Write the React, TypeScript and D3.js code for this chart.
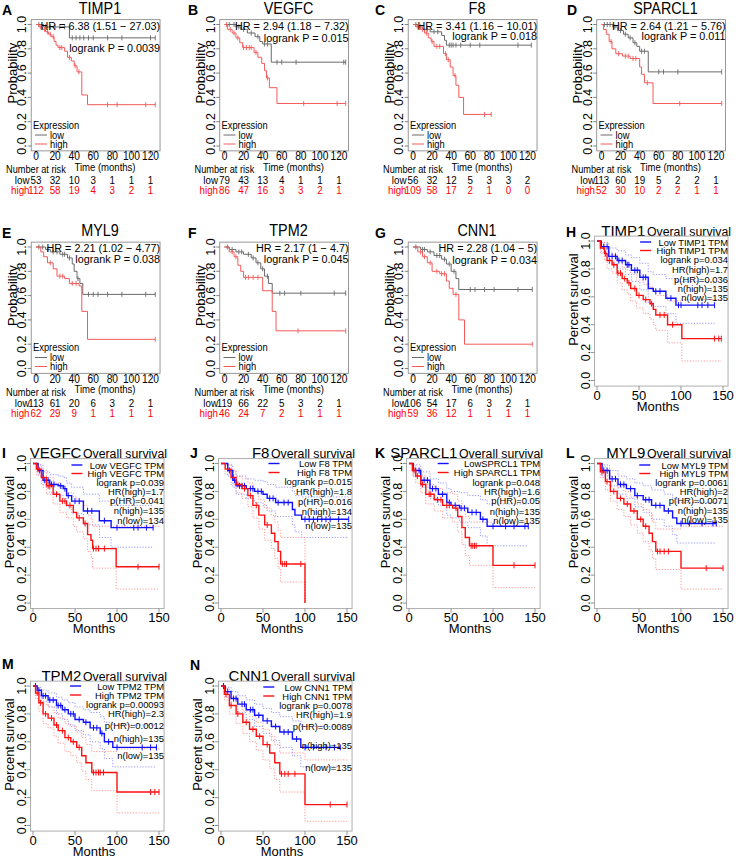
import React from 'react';
import * as d3 from 'd3';

type Step = [number, number];
type CiStep = [number, number, number, number];

// ---------------- KM plotter panels (A-G) ----------------
const kmGenes = ['TIMP1', 'VEGFC', 'F8', 'SPARCL1', 'MYL9', 'TPM2', 'CNN1'];
const kmLetters = ['A', 'B', 'C', 'D', 'E', 'F', 'G'];
const kmHR = [
  'HR = 6.38 (1.51 − 27.03)', 'HR = 2.94 (1.18 − 7.32)', 'HR = 3.41 (1.16 − 10.01)',
  'HR = 2.64 (1.21 − 5.76)', 'HR = 2.21 (1.02 − 4.77)', 'HR = 2.17 (1 − 4.7)', 'HR = 2.28 (1.04 − 5)',
];
const kmP = [
  'logrank P = 0.0039', 'logrank P = 0.015', 'logrank P = 0.018', 'logrank P = 0.011',
  'logrank P = 0.038', 'logrank P = 0.045', 'logrank P = 0.034',
];
const kmLow: Step[][] = [
  [[0, 1], [8, 0.98], [35, 0.89]],
  [[0, 1], [12, 0.98], [17, 0.96], [24, 0.93], [32, 0.9], [37, 0.86], [40, 0.84], [49, 0.69]],
  [[0, 1], [5, 0.98], [10, 0.96], [18, 0.94], [30, 0.91], [33, 0.87], [35, 0.83]],
  [[0, 1], [12, 0.98], [17, 0.95], [23, 0.92], [28, 0.89], [33, 0.85], [37, 0.82], [40, 0.78], [49, 0.61]],
  [[0, 1], [10, 0.98], [15, 0.96], [25, 0.94], [33, 0.91], [38, 0.86], [40, 0.8], [43, 0.74], [46, 0.7], [49, 0.61]],
  [[0, 1], [5, 0.98], [12, 0.96], [20, 0.94], [28, 0.91], [33, 0.87], [38, 0.82], [42, 0.76], [46, 0.7], [50, 0.62]],
  [[0, 1], [8, 0.98], [15, 0.96], [22, 0.93], [30, 0.9], [35, 0.86], [40, 0.8], [45, 0.74], [48, 0.65]],
];
const kmLowEnd = [125, 127, 124, 126, 125, 127, 125];
const kmLowCensor = [
  [3, 10, 15, 20, 25, 30, 38, 42, 46, 50, 55, 60, 75, 90, 120, 125],
  [5, 10, 15, 20, 28, 35, 42, 45, 55, 60, 75, 125, 127],
  [3, 8, 15, 22, 26, 38, 40, 42, 45, 50, 60, 70, 110, 124],
  [3, 6, 9, 14, 20, 25, 30, 35, 42, 45, 60, 65, 80, 126],
  [3, 7, 12, 18, 22, 28, 30, 35, 44, 55, 60, 65, 75, 90, 115, 125],
  [3, 8, 15, 18, 25, 30, 35, 40, 45, 58, 63, 80, 115, 127],
  [3, 10, 12, 18, 25, 28, 33, 38, 43, 60, 65, 75, 85, 110, 125],
];
const kmHigh: Step[][] = [
  [[0, 1], [3, 0.98], [7, 0.96], [10, 0.94], [13, 0.92], [16, 0.9], [19, 0.86], [21, 0.83], [23, 0.81], [30, 0.78], [33, 0.73], [37, 0.7], [40, 0.66], [43, 0.61], [48, 0.42], [54, 0.34]],
  [[0, 1], [3, 0.96], [8, 0.93], [12, 0.89], [16, 0.85], [19, 0.81], [31, 0.77], [35, 0.73], [39, 0.68], [42, 0.62], [44, 0.56], [47, 0.48], [55, 0.35]],
  [[0, 1], [3, 0.98], [8, 0.96], [12, 0.93], [16, 0.89], [19, 0.86], [22, 0.82], [32, 0.76], [35, 0.71], [39, 0.65], [42, 0.58], [45, 0.5], [48, 0.4], [53, 0.26]],
  [[0, 1], [2, 0.96], [5, 0.92], [8, 0.86], [11, 0.8], [15, 0.76], [22, 0.74], [30, 0.72], [40, 0.65], [42, 0.59], [45, 0.52], [54, 0.35]],
  [[0, 1], [5, 0.96], [8, 0.92], [12, 0.87], [18, 0.82], [22, 0.76], [30, 0.74], [35, 0.7], [45, 0.68], [48, 0.47], [54, 0.24]],
  [[0, 1], [5, 0.96], [10, 0.92], [14, 0.85], [17, 0.8], [20, 0.75], [40, 0.64], [50, 0.47], [54, 0.31]],
  [[0, 1], [5, 0.96], [10, 0.92], [15, 0.87], [20, 0.8], [28, 0.78], [35, 0.72], [38, 0.66], [42, 0.61], [48, 0.4], [54, 0.2]],
];
const kmHighEnd = [125, 127, 82, 126, 125, 127, 125];
const kmHighCensor = [
  [5, 9, 12, 15, 18, 25, 27, 35, 41, 45, 75, 85, 115, 125],
  [2, 6, 10, 14, 20, 23, 26, 28, 33, 45, 83, 118, 127],
  [5, 10, 14, 20, 25, 28, 34, 37, 44, 75, 82],
  [10, 18, 25, 28, 33, 36, 48, 82, 126],
  [15, 25, 28, 38, 42, 125],
  [8, 12, 22, 25, 30, 35, 77, 127],
  [8, 12, 18, 25, 30, 33, 45, 125],
];
const kmRiskLow = [
  [53, 32, 10, 3, 1, 1, 1], [79, 43, 13, 4, 1, 1, 1], [56, 32, 12, 5, 3, 3, 2], [113, 60, 19, 5, 2, 2, 1],
  [113, 61, 20, 6, 3, 2, 1], [119, 66, 22, 5, 3, 2, 1], [106, 54, 17, 6, 3, 2, 1],
];
const kmRiskHigh = [
  [112, 58, 19, 4, 3, 2, 1], [86, 47, 16, 3, 3, 2, 1], [109, 58, 17, 2, 1, 0, 0], [52, 30, 10, 2, 2, 1, 1],
  [62, 29, 9, 1, 1, 1, 1], [46, 24, 7, 2, 1, 1, 1], [59, 36, 12, 1, 1, 1, 1],
];
const kmTimeTicks = [0, 20, 40, 60, 80, 100, 120];
const probTicks = [0, 0.2, 0.4, 0.6, 0.8, 1.0];

// ---------------- GEPIA panels (H-N) ----------------
const gpGenes = ['TIMP1', 'VEGFC', 'F8', 'SPARCL1', 'MYL9', 'TPM2', 'CNN1'];
const gpLetters = ['H', 'I', 'J', 'K', 'L', 'M', 'N'];
const gpLowLabel = ['Low TIMP1 TPM', 'Low VEGFC TPM', 'Low F8 TPM', 'LowSPRCL1 TPM', 'Low MYL9 TPM', 'Low TPM2 TPM', 'Low CNN1 TPM'];
const gpHighLabel = ['High TIMP1 TPM', 'High VEGFC TPM', 'High F8 TPM', 'High SPARCL1 TPM', 'High MYL9 TPM', 'High TPM2 TPM', 'High CNN1 TPM'];
const gpLogrank = ['logrank p=0.034', 'logrank p=0.039', 'logrank p=0.015', 'logrank p=0.048', 'logrank p=0.0061', 'logrank p=0.00093', 'logrank p=0.0078'];
const gpHR = ['HR(high)=1.7', 'HR(high)=1.7', 'HR(high)=1.8', 'HR(high)=1.6', 'HR(high)=2', 'HR(high)=2.3', 'HR(high)=1.9'];
const gpPHR = ['p(HR)=0.036', 'p(HR)=0.041', 'p(HR)=0.016', 'p(HR)=0.05', 'p(HR)=0.0071', 'p(HR)=0.0012', 'p(HR)=0.0089'];
const gpNHigh = ['n(high)=135', 'n(high)=135', 'n(high)=134', 'n(high)=135', 'n(high)=135', 'n(high)=135', 'n(high)=135'];
const gpNLow = ['n(low)=135', 'n(low)=134', 'n(low)=135', 'n(low)=135', 'n(low)=135', 'n(low)=135', 'n(low)=135'];

// [time, survival, lower CI, upper CI]
const gpLow: CiStep[][] = [
  [[0, 1, 1, 1], [5, 0.96, 0.92, 0.99], [14, 0.89, 0.84, 0.95], [24, 0.86, 0.8, 0.93], [34, 0.83, 0.76, 0.9], [41, 0.79, 0.71, 0.88], [51, 0.74, 0.65, 0.84], [61, 0.66, 0.56, 0.78], [67, 0.64, 0.53, 0.76], [82, 0.59, 0.48, 0.73], [94, 0.54, 0.41, 0.71]],
  [[0, 1, 1, 1], [6, 0.95, 0.91, 0.99], [12, 0.88, 0.83, 0.94], [20, 0.85, 0.79, 0.92], [30, 0.84, 0.77, 0.91], [36, 0.82, 0.75, 0.9], [40, 0.77, 0.69, 0.86], [46, 0.73, 0.64, 0.83], [60, 0.66, 0.56, 0.78], [79, 0.59, 0.47, 0.73], [93, 0.54, 0.4, 0.7]],
  [[0, 1, 1, 1], [8, 0.95, 0.91, 0.99], [14, 0.88, 0.83, 0.94], [18, 0.84, 0.78, 0.91], [30, 0.82, 0.75, 0.89], [40, 0.8, 0.72, 0.88], [50, 0.78, 0.7, 0.87], [55, 0.75, 0.66, 0.85], [65, 0.72, 0.62, 0.83], [85, 0.67, 0.56, 0.8], [88, 0.63, 0.51, 0.77], [96, 0.6, 0.47, 0.76]],
  [[0, 1, 1, 1], [5, 0.95, 0.91, 0.99], [14, 0.88, 0.83, 0.94], [25, 0.82, 0.75, 0.89], [35, 0.78, 0.7, 0.86], [45, 0.72, 0.63, 0.82], [50, 0.7, 0.61, 0.8], [60, 0.68, 0.58, 0.79], [70, 0.65, 0.54, 0.77], [85, 0.6, 0.48, 0.74], [93, 0.55, 0.41, 0.71]],
  [[0, 1, 1, 1], [6, 0.95, 0.91, 0.99], [15, 0.89, 0.84, 0.95], [25, 0.85, 0.78, 0.91], [35, 0.82, 0.75, 0.89], [45, 0.77, 0.69, 0.86], [55, 0.74, 0.65, 0.84], [65, 0.7, 0.6, 0.81], [80, 0.66, 0.55, 0.78], [90, 0.61, 0.49, 0.75], [95, 0.57, 0.43, 0.72]],
  [[0, 1, 1, 1], [5, 0.97, 0.94, 0.99], [10, 0.93, 0.89, 0.97], [18, 0.9, 0.85, 0.95], [28, 0.86, 0.8, 0.92], [35, 0.83, 0.76, 0.9], [42, 0.8, 0.72, 0.88], [50, 0.76, 0.68, 0.85], [60, 0.74, 0.65, 0.83], [68, 0.7, 0.6, 0.81], [80, 0.66, 0.55, 0.78], [85, 0.6, 0.48, 0.74], [95, 0.56, 0.42, 0.72]],
  [[0, 1, 1, 1], [5, 0.96, 0.92, 0.99], [12, 0.91, 0.86, 0.96], [20, 0.87, 0.81, 0.93], [30, 0.83, 0.76, 0.9], [40, 0.79, 0.71, 0.87], [50, 0.75, 0.66, 0.84], [60, 0.71, 0.61, 0.81], [70, 0.67, 0.56, 0.78], [85, 0.62, 0.5, 0.75], [95, 0.56, 0.42, 0.71]],
];
const gpLowEnd = [140, 143, 152, 142, 142, 147, 142];
const gpLowCensor = [
  [8, 12, 18, 22, 26, 30, 36, 38, 45, 48, 55, 58, 70, 75, 88, 97, 100, 120, 125, 132, 140],
  [8, 14, 16, 18, 22, 25, 33, 38, 42, 50, 55, 65, 70, 85, 100, 120, 125, 135, 143],
  [10, 16, 22, 25, 28, 35, 38, 44, 48, 58, 62, 68, 75, 80, 100, 105, 110, 115, 120, 125, 130, 140, 152],
  [8, 12, 18, 22, 28, 32, 40, 48, 55, 62, 66, 75, 80, 88, 100, 115, 125, 138, 142],
  [8, 12, 18, 22, 28, 32, 40, 48, 58, 62, 70, 75, 85, 100, 110, 125, 138, 142],
  [3, 7, 12, 15, 20, 24, 30, 33, 38, 45, 48, 55, 63, 72, 76, 82, 90, 100, 130, 140, 147],
  [3, 8, 15, 18, 25, 28, 35, 38, 45, 55, 65, 75, 80, 90, 100, 110, 125, 135, 142],
];
const gpHigh: CiStep[][] = [
  [[0, 1, 1, 1], [4, 0.95, 0.91, 0.99], [9, 0.91, 0.86, 0.96], [12, 0.86, 0.8, 0.92], [18, 0.83, 0.77, 0.9], [24, 0.77, 0.7, 0.85], [30, 0.73, 0.65, 0.81], [36, 0.7, 0.62, 0.79], [40, 0.66, 0.57, 0.76], [47, 0.61, 0.52, 0.72], [55, 0.58, 0.48, 0.69], [63, 0.55, 0.44, 0.67], [67, 0.51, 0.4, 0.64], [70, 0.47, 0.36, 0.61], [84, 0.4, 0.27, 0.57], [101, 0.3, 0.14, 0.58]],
  [[0, 1, 1, 1], [4, 0.96, 0.92, 0.99], [10, 0.9, 0.85, 0.95], [16, 0.84, 0.78, 0.9], [24, 0.78, 0.71, 0.86], [32, 0.73, 0.65, 0.82], [40, 0.7, 0.61, 0.79], [48, 0.65, 0.55, 0.76], [52, 0.61, 0.51, 0.73], [60, 0.57, 0.46, 0.7], [65, 0.49, 0.37, 0.63], [69, 0.45, 0.33, 0.6], [71, 0.39, 0.25, 0.55], [99, 0.26, 0.1, 0.55]],
  [[0, 1, 1, 1], [5, 0.96, 0.92, 0.99], [12, 0.9, 0.85, 0.95], [18, 0.85, 0.79, 0.91], [25, 0.82, 0.75, 0.89], [32, 0.77, 0.69, 0.86], [38, 0.7, 0.61, 0.8], [45, 0.63, 0.53, 0.74], [52, 0.56, 0.45, 0.68], [60, 0.5, 0.39, 0.63], [64, 0.44, 0.32, 0.58], [68, 0.37, 0.25, 0.52], [71, 0.28, 0.15, 0.47], [100, 0, 0, 0]],
  [[0, 1, 1, 1], [4, 0.95, 0.91, 0.99], [8, 0.91, 0.86, 0.96], [14, 0.85, 0.79, 0.91], [20, 0.78, 0.71, 0.85], [30, 0.74, 0.66, 0.82], [40, 0.7, 0.61, 0.79], [52, 0.68, 0.58, 0.78], [58, 0.62, 0.51, 0.73], [63, 0.54, 0.42, 0.67], [67, 0.47, 0.34, 0.62], [72, 0.41, 0.27, 0.58], [100, 0.27, 0.11, 0.58]],
  [[0, 1, 1, 1], [4, 0.94, 0.9, 0.98], [10, 0.87, 0.81, 0.93], [16, 0.8, 0.73, 0.87], [24, 0.75, 0.67, 0.83], [32, 0.71, 0.62, 0.8], [40, 0.66, 0.56, 0.76], [48, 0.6, 0.5, 0.71], [55, 0.55, 0.44, 0.67], [62, 0.5, 0.38, 0.63], [66, 0.44, 0.32, 0.58], [70, 0.37, 0.24, 0.53], [100, 0.25, 0.1, 0.55]],
  [[0, 1, 1, 1], [3, 0.95, 0.91, 0.99], [7, 0.88, 0.82, 0.93], [12, 0.8, 0.73, 0.87], [18, 0.77, 0.7, 0.85], [25, 0.72, 0.64, 0.81], [30, 0.68, 0.59, 0.77], [38, 0.63, 0.53, 0.73], [45, 0.6, 0.5, 0.71], [52, 0.56, 0.45, 0.67], [58, 0.5, 0.39, 0.63], [63, 0.45, 0.33, 0.58], [70, 0.38, 0.25, 0.53], [100, 0.24, 0.09, 0.55]],
  [[0, 1, 1, 1], [4, 0.94, 0.9, 0.98], [10, 0.86, 0.8, 0.92], [18, 0.8, 0.73, 0.87], [26, 0.74, 0.66, 0.82], [34, 0.69, 0.6, 0.78], [42, 0.64, 0.54, 0.74], [50, 0.58, 0.47, 0.69], [58, 0.52, 0.41, 0.64], [64, 0.45, 0.33, 0.58], [70, 0.37, 0.24, 0.52], [100, 0.15, 0.03, 0.47]],
];
const gpHighEnd = [148, 150, 100, 150, 150, 150, 150];
const gpHighCensor = [
  [10, 15, 20, 25, 28, 33, 38, 45, 50, 58, 65, 75, 80, 90, 140, 145, 148],
  [6, 12, 18, 20, 28, 35, 38, 44, 55, 62, 72, 75, 78, 85, 125, 150],
  [15, 20, 28, 35, 42, 55, 73, 76, 78, 95],
  [6, 10, 16, 24, 26, 34, 38, 45, 48, 56, 74, 76, 78, 80, 125, 150],
  [6, 12, 20, 28, 36, 44, 52, 58, 72, 75, 80, 85, 130, 150],
  [5, 9, 15, 22, 28, 35, 42, 48, 55, 72, 75, 78, 80, 84, 140, 145, 150],
  [6, 12, 20, 30, 38, 46, 55, 72, 76, 80, 88, 130, 150],
];
const monthTicks = [0, 50, 100, 150];

// ---------------- rendering ----------------
const FONT = "'Liberation Sans', Arial, Helvetica, sans-serif";
const KM_GRAY = '#6a6a6a';
const KM_RED = '#f45a5a';
const GP_BLUE = '#1010ff';
const GP_RED = '#ff1010';

let measureCtx: CanvasRenderingContext2D | null = null;
function textW(s: string, size: number) {
  if (!measureCtx && typeof document !== 'undefined') measureCtx = document.createElement('canvas').getContext('2d');
  if (!measureCtx) return s.length * size * 0.52;
  measureCtx.font = `${size}px ${FONT}`;
  return measureCtx.measureText(s).width;
}

function stepAt(steps: number[][], t: number) {
  let v = steps[0][1];
  for (const s of steps) { if (s[0] <= t) v = s[1]; else break; }
  return v;
}

type TP = { x: number; y: number; s: number; a?: string; sx?: number; fill?: string; w?: string | number; rot?: boolean; children: React.ReactNode };
const T = ({ x, y, s, a = 'start', sx = 1, fill = '#000', w, rot, children }: TP) => (
  <text
    transform={rot ? `translate(${x},${y}) rotate(-90)` : `translate(${x},${y}) scale(${sx},1)`}
    fontSize={s} textAnchor={a as any} dominantBaseline="central" fill={fill}
    fontWeight={w as any} fontFamily={FONT}
  >{children}</text>
);

function stepPath(pts: [number, number][], x: d3.ScaleLinear<number, number>, y: d3.ScaleLinear<number, number>) {
  return d3.line<[number, number]>().x(d => x(d[0])).y(d => y(d[1])).curve(d3.curveStepAfter)(pts) || '';
}

const kmPY = [48, 38, 36, 36, 36, 36, 37.5];
const kmLetterX = [2, 188, 375, 567];

function KMPanel({ i }: { i: number }) {
  const row = i < 4 ? 0 : 1;
  const col = i < 4 ? i : i - 4;
  const ro = row * 222.5;
  const co = col * 188.5;
  const x = d3.scaleLinear().domain([0, 120]).range([36 + co, 150.5 + co]);
  const y = d3.scaleLinear().domain([0, 1]).range([146 + ro, 24.5 + ro]);
  const bx0 = x(-5), bx1 = x(130), by0 = y(1.04), by1 = y(-0.04);
  const SX = 0.85;
  const curves = [
    { steps: kmLow[i], end: kmLowEnd[i], cens: kmLowCensor[i], col: KM_GRAY },
    { steps: kmHigh[i], end: kmHighEnd[i], cens: kmHighCensor[i], col: KM_RED },
  ];
  return (
    <g>
      <T x={kmLetterX[col]} y={ro + 10} s={14} w="bold">{kmLetters[i]}</T>
      <T x={co + 100} y={ro + 8} s={16} a="middle" sx={0.9}>{kmGenes[i]}</T>
      <rect x={bx0} y={by0} width={bx1 - bx0} height={by1 - by0} fill="none" stroke="#8c8c8c" strokeWidth={0.9} />
      {probTicks.map(t => (
        <g key={'y' + t}>
          <line x1={bx0} x2={bx0 - 3.5} y1={y(t)} y2={y(t)} stroke="#666" strokeWidth={0.8} />
          <T x={bx0 - 9} y={y(t)} s={12.5} a="middle" rot>{t.toFixed(1)}</T>
        </g>
      ))}
      {kmTimeTicks.map(t => (
        <g key={'x' + t}>
          <line x1={x(t)} x2={x(t)} y1={by1} y2={by1 + 3.5} stroke="#666" strokeWidth={0.8} />
          <T x={x(t)} y={ro + 156} s={12} a="middle" sx={SX}>{t}</T>
        </g>
      ))}
      <T x={co + 12} y={y(0.6)} s={13} a="middle" rot>Probability</T>
      {curves.map((c, k) => {
        const pts: [number, number][] = c.steps.map(s => [s[0], s[1]] as [number, number]);
        pts.push([c.end, c.steps[c.steps.length - 1][1]]);
        return (
          <g key={k}>
            <path d={stepPath(pts, x, y)} fill="none" stroke={c.col} strokeWidth={1} />
            {c.cens.map((t, j) => {
              const v = stepAt(c.steps, t);
              return <line key={j} x1={x(t)} x2={x(t)} y1={y(v) - 2.5} y2={y(v) + 2.5} stroke={c.col} strokeWidth={0.9} />;
            })}
          </g>
        );
      })}
      <T x={bx1} y={ro + 25.5} s={11.5} a="end" sx={0.94}>{kmHR[i]}</T>
      <T x={bx1} y={ro + kmPY[i]} s={11.5} a="end" sx={0.94}>{kmP[i]}</T>
      <T x={x(0) - 3} y={y(0) - 21} s={11} sx={SX}>Expression</T>
      <line x1={x(0) - 1} x2={x(0) + 11} y1={y(0) - 11} y2={y(0) - 11} stroke={KM_GRAY} strokeWidth={1} />
      <line x1={x(0) - 1} x2={x(0) + 11} y1={y(0) - 2} y2={y(0) - 2} stroke={KM_RED} strokeWidth={1} />
      <T x={x(0) + 14} y={y(0) - 11} s={11} sx={SX}>low</T>
      <T x={x(0) + 14} y={y(0) - 2} s={11} sx={SX}>high</T>
      <T x={co + 6} y={ro + 169.5} s={11.5} sx={0.8}>Number at risk</T>
      <T x={co + 105} y={ro + 166.5} s={11.5} a="middle" sx={0.83}>Time (months)</T>
      <T x={x(0) - 6.5} y={ro + 180} s={11.5} a="end" sx={SX}>low</T>
      <T x={x(0) - 6.5} y={ro + 190} s={11.5} a="end" sx={SX} fill="#ff0000">high</T>
      {kmTimeTicks.map((t, j) => (
        <g key={'r' + t}>
          <T x={x(t)} y={ro + 180} s={11.5} a="middle" sx={SX}>{kmRiskLow[i][j]}</T>
          <T x={x(t)} y={ro + 190} s={11.5} a="middle" sx={SX} fill="#ff0000">{kmRiskHigh[i][j]}</T>
        </g>
      ))}
    </g>
  );
}

const gpPos = [[1, 3], [2, 0], [2, 1], [2, 2], [2, 3], [3, 0], [3, 1]];
const gpLegendRows = [
  [1, 9.5, 18.5, 28, 38, 47, 56],
  [1.5, 10, 19, 28, 37, 47, 56.5],
  [0, 9, 18, 28, 38, 48, 62],
  [0, 9, 18.5, 27.5, 37, 47.5, 56.5],
  [1.5, 10, 19, 28, 37, 46.5, 56],
  [0, 9, 18, 27, 39, 52, 69],
  [1, 10, 19, 28, 40, 59, 81],
];
const gpLetterY = [4.5, 3, 3, 3, 3, -9, -8];
const gpLetterX = [2, 190, 375, 566];

function GPPanel({ j }: { j: number }) {
  const [row, col] = gpPos[j];
  const ro = row * 222.5;
  const co = col * 188;
  const x = d3.scaleLinear().domain([0, 150]).range([33 + co, 159 + co]);
  const y = d3.scaleLinear().domain([0, 1]).range([158 + ro, 18.5 + ro]);
  const bx0 = x(-3), bx1 = x(156), by0 = y(1.035), by1 = y(-0.04);
  const curves = [
    { steps: gpLow[j], end: gpLowEnd[j], cens: gpLowCensor[j], col: GP_BLUE, ci: '#8c8cff' },
    { steps: gpHigh[j], end: gpHighEnd[j], cens: gpHighCensor[j], col: GP_RED, ci: '#ff8c8c' },
  ];
  const legendTexts = [gpLowLabel[j], gpHighLabel[j], gpLogrank[j], gpHR[j], gpPHR[j], gpNHigh[j], gpNLow[j]];
  const LS = 9.4;
  const right = x(150) + 5;
  const maxW = Math.max(...legendTexts.map(s => textW(s, LS)));
  const lineEnd = right - maxW - 5;
  const rows = gpLegendRows[j];
  return (
    <g>
      <T x={gpLetterX[col]} y={ro + gpLetterY[j] + 5} s={14} w="bold">{gpLetters[j]}</T>
      <text transform={`translate(${x(150) + 8},${ro + 13})`} textAnchor="end" fontFamily={FONT}>
        <tspan fontSize={15}>{gpGenes[j]}</tspan>
        <tspan fontSize={12.3} dx={1.5}>Overall survival</tspan>
      </text>
      <rect x={bx0} y={by0} width={bx1 - bx0} height={by1 - by0} fill="none" stroke="#a6a6a6" strokeWidth={0.9} />
      {probTicks.map(t => (
        <g key={'y' + t}>
          <line x1={bx0} x2={bx0 - 3.5} y1={y(t)} y2={y(t)} stroke="#777" strokeWidth={0.8} />
          <T x={bx0 - 8.5} y={y(t)} s={12.5} a="middle" rot>{t.toFixed(1)}</T>
        </g>
      ))}
      {monthTicks.map(t => (
        <g key={'x' + t}>
          <line x1={x(t)} x2={x(t)} y1={by1} y2={by1 + 4} stroke="#777" strokeWidth={0.8} />
          <T x={x(t)} y={y(0) + 14.5} s={13} a="middle">{t}</T>
        </g>
      ))}
      <T x={x(75) - 2} y={y(0) + 25.5} s={13} a="middle">Months</T>
      <T x={bx0 - 20.5} y={y(0.58)} s={13} a="middle" rot>Percent survival</T>
      {curves.map((c, k) => {
        const last = c.steps[c.steps.length - 1];
        const mk = (idx: number) => {
          const pts: [number, number][] = c.steps.map(s => [s[0], s[idx]] as [number, number]);
          pts.push([c.end, last[idx]]);
          return pts;
        };
        return (
          <g key={'ci' + k}>
            <path d={stepPath(mk(2), x, y)} fill="none" stroke={c.ci} strokeWidth={0.9} strokeDasharray="1.2,1.6" />
            <path d={stepPath(mk(3), x, y)} fill="none" stroke={c.ci} strokeWidth={0.9} strokeDasharray="1.2,1.6" />
          </g>
        );
      })}
      {curves.map((c, k) => {
        const last = c.steps[c.steps.length - 1];
        const pts: [number, number][] = c.steps.map(s => [s[0], s[1]] as [number, number]);
        pts.push([c.end, last[1]]);
        return (
          <g key={'c' + k}>
            <path d={stepPath(pts, x, y)} fill="none" stroke={c.col} strokeWidth={1.4} />
            {c.cens.map((t, m) => {
              const v = stepAt(c.steps, t);
              return <line key={m} x1={x(t)} x2={x(t)} y1={y(v) - 3} y2={y(v) + 3} stroke={c.col} strokeWidth={1} />;
            })}
          </g>
        );
      })}
      <line x1={lineEnd - 11} x2={lineEnd} y1={y(1) + rows[0]} y2={y(1) + rows[0]} stroke={GP_BLUE} strokeWidth={1.4} />
      <line x1={lineEnd - 11} x2={lineEnd} y1={y(1) + rows[1]} y2={y(1) + rows[1]} stroke={GP_RED} strokeWidth={1.4} />
      {legendTexts.map((s, k) => (
        <T key={'l' + k} x={right} y={y(1) + rows[k]} s={LS} a="end">{s}</T>
      ))}
    </g>
  );
}

export default function App() {
  return (
    <svg width={738} height={857} viewBox="0 0 738 857"
      style={{ position: 'absolute', left: 0, top: 0, background: '#fff' }}>
      <rect x={0} y={0} width={738} height={857} fill="#fff" />
      {kmGenes.map((_, i) => <KMPanel key={'km' + i} i={i} />)}
      {gpGenes.map((_, j) => <GPPanel key={'gp' + j} j={j} />)}
    </svg>
  );
}
